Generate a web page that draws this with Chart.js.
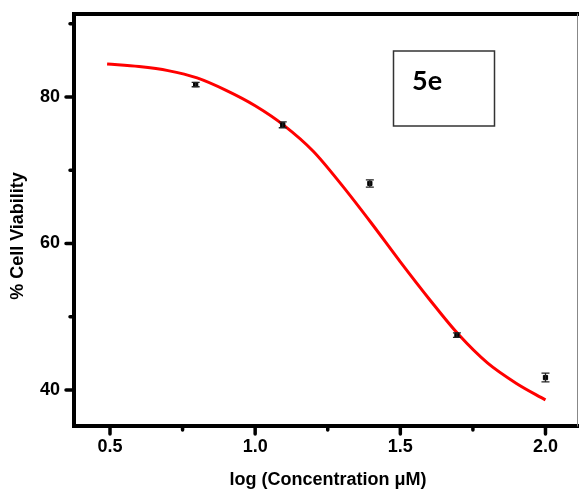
<!DOCTYPE html>
<html>
<head>
    <title>5e Cell Viability</title>
    <script src="https://cdn.jsdelivr.net/npm/chart.js@4.4.0/dist/chart.umd.min.js"></script>
    <style>
        body {
            margin: 0;
            background: #fff;
        }
        .chart-wrapper {
            position: relative;
            width: 579px;
            height: 498px;
        }
    </style>
</head>
<body>
    <div class="chart-wrapper">
        <canvas id="viabilityChart"></canvas>
    </div>

    <script>
        // Measured points (log concentration vs % viability)
        const logConc = [0.49, 0.795, 1.095, 1.395, 1.695, 2.0];
        const viability = [91.5, 81.7, 76.2, 68.2, 47.5, 41.7];
        const viabilityErr = [0.3, 0.3, 0.4, 0.5, 0.3, 0.6];

        // Fitted curve
        const fitLogConc = [0.49, 0.6, 0.7, 0.8, 0.9, 1.0, 1.1, 1.2, 1.3, 1.4, 1.5, 1.6, 1.7, 1.8, 1.9, 2.0];
        const fitViability = [84.5, 84.15, 83.6, 82.6, 80.9, 78.8, 76.1, 72.6, 67.9, 62.8, 57.5, 52.4, 47.6, 43.7, 40.9, 38.65];

        // Axis ticks
        const xMajorTicks = [0.5, 1.0, 1.5, 2.0];
        const xMinorTicks = [0.75, 1.25, 1.75];
        const yMajorTicks = [40, 60, 80];
        const yMinorTicks = [50, 70, 90];

        const labelFont = { family: "'Liberation Sans', Arial, sans-serif", size: 18, weight: 'bold' };

        // Error bars, axis frame, tick marks, titles and the "5e" box
        const decorations = {
            id: 'decorations',
            afterDatasetsDraw(chart) {
                const ctx = chart.ctx;
                const x = chart.scales.x;
                const y = chart.scales.y;
                const area = chart.chartArea;

                ctx.save();
                ctx.beginPath();
                ctx.rect(area.left, area.top, area.right - area.left, area.bottom - area.top);
                ctx.clip();
                ctx.strokeStyle = '#222';
                ctx.lineWidth = 1.3;
                logConc.forEach((v, i) => {
                    const px = x.getPixelForValue(v);
                    const top = y.getPixelForValue(viability[i] + viabilityErr[i]);
                    const bottom = y.getPixelForValue(viability[i] - viabilityErr[i]);
                    ctx.beginPath();
                    ctx.moveTo(px, top); ctx.lineTo(px, bottom);
                    ctx.moveTo(px - 4, top); ctx.lineTo(px + 4, top);
                    ctx.moveTo(px - 4, bottom); ctx.lineTo(px + 4, bottom);
                    ctx.stroke();
                });
                ctx.restore();
            },
            afterDraw(chart) {
                const ctx = chart.ctx;
                const x = chart.scales.x;
                const y = chart.scales.y;
                const area = chart.chartArea;

                ctx.save();
                // frame
                ctx.strokeStyle = '#000';
                ctx.lineWidth = 4;
                ctx.lineCap = 'square';
                ctx.beginPath();
                ctx.moveTo(area.right, area.top);
                ctx.lineTo(area.left, area.top);
                ctx.lineTo(area.left, area.bottom);
                ctx.lineTo(area.right, area.bottom);
                ctx.stroke();
                ctx.strokeStyle = '#888';
                ctx.lineWidth = 1;
                ctx.beginPath();
                ctx.moveTo(area.right - 0.5, area.top);
                ctx.lineTo(area.right - 0.5, area.bottom);
                ctx.stroke();

                // tick marks, pointing outward
                ctx.strokeStyle = '#000';
                ctx.lineWidth = 3.5;
                ctx.lineCap = 'round';
                ctx.beginPath();
                xMajorTicks.forEach(v => {
                    const px = x.getPixelForValue(v);
                    ctx.moveTo(px, area.bottom); ctx.lineTo(px, area.bottom + 8);
                });
                xMinorTicks.forEach(v => {
                    const px = x.getPixelForValue(v);
                    ctx.moveTo(px, area.bottom); ctx.lineTo(px, area.bottom + 4);
                });
                yMajorTicks.forEach(v => {
                    const py = y.getPixelForValue(v);
                    ctx.moveTo(area.left, py); ctx.lineTo(area.left - 8, py);
                });
                yMinorTicks.forEach(v => {
                    const py = y.getPixelForValue(v);
                    ctx.moveTo(area.left, py); ctx.lineTo(area.left - 4, py);
                });
                ctx.stroke();

                // axis titles
                ctx.fillStyle = '#000';
                ctx.font = "bold 18px 'Liberation Sans', Arial, sans-serif";
                ctx.textAlign = 'center';
                ctx.textBaseline = 'middle';
                ctx.fillText('log (Concentration \u03bcM)', 328, 480);
                ctx.save();
                ctx.translate(18, 236);
                ctx.rotate(-Math.PI / 2);
                ctx.fillText('% Cell Viability', 0, 0);
                ctx.restore();

                // compound label box
                ctx.strokeStyle = '#333';
                ctx.lineWidth = 1.5;
                ctx.strokeRect(393.5, 51, 101, 75);
                ctx.font = "bold 27px Lato, 'Open Sans', sans-serif";
                ctx.textAlign = 'left';
                ctx.textBaseline = 'alphabetic';
                ctx.fillText('5e', 412, 90);
                ctx.restore();
            }
        };

        new Chart(document.getElementById('viabilityChart'), {
            type: 'scatter',
            data: {
                datasets: [
                    {
                        label: '5e',
                        data: logConc.map((v, i) => ({ x: v, y: viability[i] })),
                        backgroundColor: '#000',
                        borderColor: '#000',
                        pointStyle: 'rect',
                        pointRadius: 3,
                        order: 0
                    },
                    {
                        label: 'Fit',
                        type: 'line',
                        data: fitLogConc.map((v, i) => ({ x: v, y: fitViability[i] })),
                        borderColor: '#ff0000',
                        borderWidth: 3,
                        pointRadius: 0,
                        fill: false,
                        cubicInterpolationMode: 'monotone',
                        order: 1
                    }
                ]
            },
            options: {
                responsive: true,
                maintainAspectRatio: false,
                animation: false,
                layout: {
                    autoPadding: false,
                    padding: { top: 14, right: 1, left: 0, bottom: 0 }
                },
                plugins: {
                    legend: { display: false },
                    tooltip: { enabled: false }
                },
                scales: {
                    x: {
                        type: 'linear',
                        min: 0.376,
                        max: 2.112,
                        afterBuildTicks: (scale) => {
                            scale.ticks = xMajorTicks.map(v => ({ value: v }));
                        },
                        afterFit: (scale) => {
                            scale.height = 72;
                            scale.paddingLeft = 0;
                            scale.paddingRight = 0;
                        },
                        grid: { display: false, drawTicks: false },
                        border: { display: false },
                        ticks: {
                            padding: 10,
                            color: '#000',
                            font: labelFont,
                            maxRotation: 0,
                            autoSkip: false,
                            callback: (value) => Number(value).toFixed(1)
                        }
                    },
                    y: {
                        min: 35.09,
                        max: 91.33,
                        afterBuildTicks: (scale) => {
                            scale.ticks = yMajorTicks.map(v => ({ value: v }));
                        },
                        afterFit: (scale) => {
                            scale.width = 74;
                            scale.paddingTop = 0;
                            scale.paddingBottom = 0;
                        },
                        grid: { display: false, drawTicks: false },
                        border: { display: false },
                        ticks: {
                            padding: 14,
                            color: '#000',
                            font: labelFont,
                            autoSkip: false
                        }
                    }
                }
            },
            plugins: [decorations]
        });
    </script>
</body>
</html>
